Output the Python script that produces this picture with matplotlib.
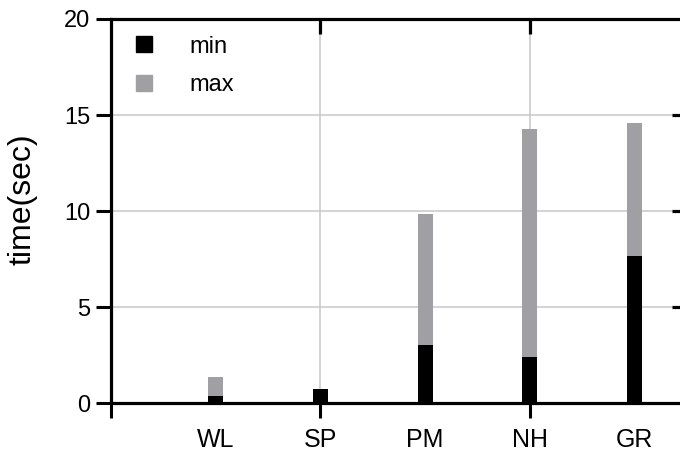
import matplotlib
matplotlib.use("Agg")
import matplotlib.pyplot as plt
from matplotlib.lines import Line2D

categories = ["WL", "SP", "PM", "NH", "GR"]
min_vals = [0.38, 0.73, 3.04, 2.40, 7.67]
max_vals = [1.39, 0.73, 9.84, 14.30, 14.58]
yticks = [0, 5, 10, 15, 20]

plt.rcParams['font.family'] = ['Liberation Sans', 'DejaVu Sans']

fig = plt.figure(figsize=(6.8, 4.53), dpi=100)
rect = [111/680, 49.7/453, 576/680, 384.3/453]
ax = fig.add_axes(rect)

pos = list(range(1, len(categories) + 1))
gray = '#a0a0a4'
ax.bar(pos, max_vals, width=0.143, color=gray, zorder=3)
ax.bar(pos, min_vals, width=0.143, color='black', zorder=4)

ax.set_xlim(0, 5.5)
ax.set_ylim(0, 20)
ax.set_yticks(yticks)
ax.set_yticklabels([str(v) for v in yticks], fontsize=17)
ax.xaxis.remove_overlapping_locs = False
ax.set_xticks([0, 2, 4])
ax.set_xticklabels([])
ax.set_xticks(pos, minor=True)
ax.set_xticklabels(categories, minor=True, fontsize=18)
ax.tick_params(axis='x', which='minor', length=0, pad=18)
ax.tick_params(axis='x', which='major', direction='out', length=11, width=2.2)
ax.tick_params(axis='y', which='major', direction='out', length=11, width=2.2, pad=4)

ax.grid(True, which='major', color='#c8c8c8', linewidth=1.1, zorder=0)
ax.set_axisbelow(True)

for s in ['left', 'bottom', 'top']:
    ax.spines[s].set_linewidth(2.3)
ax.spines['right'].set_visible(False)

# inward ticks on top and right
ax2 = fig.add_axes(rect, frameon=False)
ax2.patch.set_visible(False)
ax2.set_xlim(ax.get_xlim())
ax2.set_ylim(ax.get_ylim())
ax2.set_xticks([2, 4])
ax2.set_yticks([5, 10, 15])
ax2.tick_params(axis='both', which='both', direction='in', length=11, width=2.3,
                bottom=False, left=False, top=True, right=True,
                labelbottom=False, labelleft=False, labeltop=False, labelright=False)

ax.set_ylabel("time(sec)", fontsize=23)
ax.yaxis.set_label_coords(-0.127, 0.53)

handles = [Line2D([], [], marker='s', linestyle='none', color='black', markersize=11),
           Line2D([], [], marker='s', linestyle='none', color=gray, markersize=11)]
ax.legend(handles, ['min', 'max'], loc='upper left', bbox_to_anchor=(-0.012, 1.0),
          frameon=False, fontsize=17, handletextpad=0.9, labelspacing=0.7,
          borderaxespad=0.3, handlelength=2.0)

fig.savefig("out.png", dpi=100)
